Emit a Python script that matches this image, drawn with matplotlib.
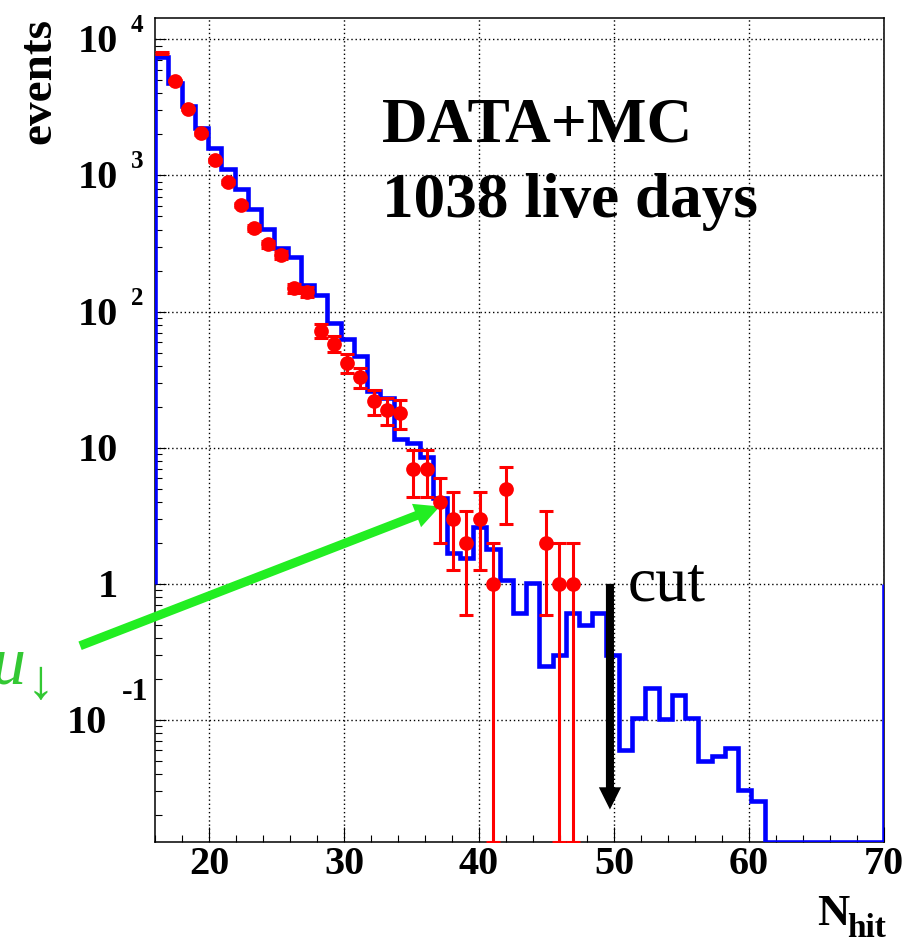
import numpy as np
import matplotlib
matplotlib.use('Agg')
import matplotlib.pyplot as plt
from matplotlib import transforms
from matplotlib.ticker import LogLocator, MultipleLocator, NullFormatter

# N_hit histogram: 55 bins between 16 and 70
n_bins = 55
x_lo, x_hi = 16, 70
y_lo, y_hi = 0.0127, 14460

# MC expectation per bin (blue line), empty bins after bin 45
mc_counts = [7380, 4800, 3240, 2220, 1585, 1110, 792, 571, 403, 292,
             253, 157, 133, 83, 62.6, 47, 26.3, 23.1, 11.5, 10.8,
             8.6, 4.3, 1.68, 1.54, 2.63, 1.8, 1.06, 0.615, 1.02, 0.249,
             0.30, 0.615, 0.50, 0.615, 0.30, 0.060, 0.103, 0.173, 0.101, 0.153,
             0.103, 0.050, 0.0544, 0.0627, 0.0306, 0.0256]

# observed events per bin (red points), 0 = nothing drawn
data_counts = [7940, 4970, 3063, 2042, 1292, 900, 607, 413, 312, 261,
               148, 139, 72, 58, 42, 33, 22, 19, 18, 7,
               7, 4, 3, 2, 3, 1, 5, 0, 0, 2,
               1, 1]

xtick_vals = [20, 30, 40, 50, 60, 70]
xtick_labels = ['20', '30', '40', '50', '60', '70']
ytick_vals = [0.1, 1, 10, 100, 1000, 10000]
ytick_base = ['10', '1', '10', '10', '10', '10']
ytick_exp = ['-1', '', '', '2', '3', '4']

cut_value = 49.7
cut_top, cut_tip = 1.0, 0.022
arrow_tail = (10.45, 0.351)
arrow_head = (37.1, 3.7)

plt.rcParams['font.family'] = ['Liberation Serif', 'DejaVu Serif']
plt.rcParams['font.weight'] = 'bold'

W, H = 919, 941
fig = plt.figure(figsize=(W / 100, H / 100), dpi=100)
ax = fig.add_axes([155 / W, 99 / H, 729 / W, 824.5 / H])
ax.set_yscale('log')
ax.set_xlim(x_lo, x_hi)
ax.set_ylim(y_lo, y_hi)

edges = np.linspace(x_lo, x_hi, n_bins + 1)
centers = 0.5 * (edges[:-1] + edges[1:])

# MC histogram (empty bins drawn along the frame bottom, like ROOT)
mc = np.zeros(n_bins)
mc[:len(mc_counts)] = mc_counts
steps = ax.stairs(np.maximum(mc, y_lo), edges, baseline=1, color='blue',
                  lw=3.3, zorder=3)
steps.set_joinstyle('miter')

# data with Poisson errors
d = np.array(data_counts, dtype=float)
keep = d > 0
xd = centers[:len(d)][keep]
yd = d[keep]
err = np.sqrt(yd)
lower = np.maximum(yd - err, y_lo)
ax.errorbar(xd, yd, yerr=[yd - lower, err], fmt='none', ecolor='red',
            elinewidth=2.2, capsize=4.8, capthick=2.2, zorder=5)
# ROOT skips the marker touching the frame (first bin)
ax.plot(xd[1:], yd[1:], 'o', color='red', ms=10.6, mew=0, zorder=6)

# cut arrow
ax.annotate('', xy=(cut_value, cut_tip), xytext=(cut_value, cut_top),
            arrowprops=dict(width=5.8, headwidth=16, headlength=16, shrink=0,
                            facecolor='black', edgecolor='none'),
            zorder=4)
ax.text(0.6481, 0.2935, 'cut', transform=ax.transAxes, fontsize=46,
        fontweight='normal', va='baseline')

# green arrow
ax.annotate('', xy=arrow_head, xytext=arrow_tail, annotation_clip=False,
            arrowprops=dict(width=6.5, headwidth=18, headlength=18, shrink=0,
                            facecolor='#22ee22', edgecolor='none'),
            zorder=4)
fig.text(25 / W, 1 - 684 / H, '\u03bc', style='italic', fontsize=50,
         color='#33c833', ha='right', va='baseline', fontweight='normal')
fig.text(40 / W, 1 - 684 / H, '\u2193', fontsize=40, color='#33c833',
         ha='center', va='center', fontweight='normal')

ax.text(0.3114, 0.8494, 'DATA+MC', transform=ax.transAxes, fontsize=45.5,
        va='baseline')
ax.text(0.3114, 0.7584, '1038 live days', transform=ax.transAxes,
        fontsize=45.5, va='baseline')

# axes
ax.set_xticks(xtick_vals, xtick_labels)
ax.xaxis.set_minor_locator(MultipleLocator(2))
ax.set_yticks(ytick_vals)
ax.yaxis.set_minor_locator(LogLocator(base=10, subs=np.arange(2, 10), numticks=30))
ax.yaxis.set_minor_formatter(NullFormatter())
ax.tick_params(axis='both', which='both', direction='in', width=0.8,
               top=False, right=False)
ax.tick_params(axis='x', which='major', length=11, labelsize=29, pad=3)
ax.tick_params(axis='x', which='minor', length=5.3)
ax.tick_params(axis='y', which='major', length=8, labelleft=False)
ax.tick_params(axis='y', which='minor', length=5.3)
for s in ax.spines.values():
    s.set_linewidth(1.1)
ax.grid(True, which='major', color='black', linestyle=(0, (1, 2)), lw=1.0)

# ROOT style y labels: 10 with raised exponent
trans = transforms.blended_transform_factory(fig.transFigure, ax.transData)
for v, b, e in zip(ytick_vals, ytick_base, ytick_exp):
    if e.startswith('-'):
        base_right, exp_left, rise, esize = 107, 122, 20, 23
    else:
        base_right, exp_left, rise, esize = 118, 131, 7, 18
    ax.text(base_right / W, v, b, ha='right', va='baseline', fontsize=29,
            transform=transforms.offset_copy(trans, fig=fig, y=-13, units='dots'))
    if e:
        ax.text(exp_left / W, v, e, ha='left', va='baseline', fontsize=esize,
                transform=transforms.offset_copy(trans, fig=fig, y=rise, units='dots'))

fig.text(60 / W, 1 - 18 / H, 'events', rotation=90, ha='right', va='top',
         fontsize=34)
fig.text(817 / W, 1 - 925 / H, 'N', fontsize=32, va='baseline')
fig.text(847 / W, 1 - 937 / H, 'hit', fontsize=24, va='baseline')

fig.savefig('out.png', dpi=100)
